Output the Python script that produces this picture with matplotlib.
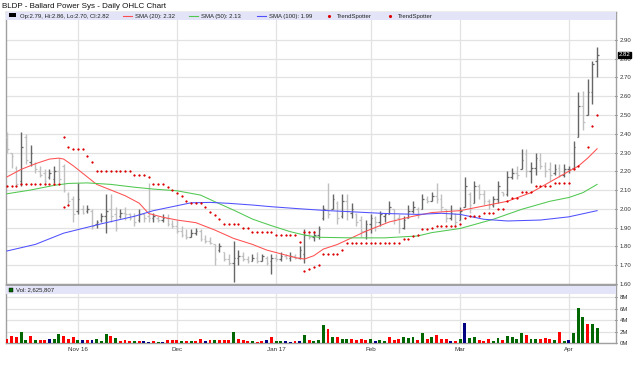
import numpy as np
import matplotlib
matplotlib.use("Agg")
import matplotlib.pyplot as plt
from matplotlib.patches import Rectangle

plt.rcParams['font.family'] = ['Liberation Sans', 'DejaVu Sans']

# ---- data (BLDP daily, Oct 11 2016 .. Apr 11 2017) ----
high = [2.41, 2.30, 2.23, 2.41, 2.40, 2.34, 2.25, 2.23, 2.21, 2.21,
        2.23, 2.27, 2.24, 2.09, 2.07, 2.14, 2.02, 2.02, 2.00, 1.94,
        1.98, 2.08, 2.08, 2.01, 2.00, 2.01, 1.98, 1.98, 2.00, 1.98,
        2.14, 1.98, 1.96, 1.97, 1.97, 1.94, 1.94, 1.91, 1.89, 1.89,
        1.90, 1.89, 1.86, 1.85, 1.81, 1.82, 1.77, 1.76, 1.83, 1.78,
        1.77, 1.75, 1.76, 1.77, 1.76, 1.75, 1.76, 1.76, 1.77, 1.76,
        1.77, 1.76, 1.80, 1.89, 1.88, 1.88, 1.91, 2.02, 2.14, 2.08,
        2.04, 2.08, 2.08, 2.03, 1.98, 1.96, 1.94, 1.97, 1.96, 1.99,
        1.98, 2.04, 2.00, 1.97, 1.96, 2.02, 2.04, 2.01, 2.08, 2.07,
        2.09, 2.14, 2.08, 2.00, 2.02, 1.98, 2.01, 2.17, 2.09, 2.15,
        2.13, 2.10, 2.05, 2.07, 2.15, 2.09, 2.20, 2.22, 2.23, 2.32,
        2.32, 2.25, 2.30, 2.30, 2.25, 2.25, 2.24, 2.24, 2.24, 2.23,
        2.36, 2.62, 2.63, 2.69, 2.79, 2.86]
low = [2.30, 2.22, 2.12, 2.12, 2.24, 2.23, 2.19, 2.17, 2.13, 2.16,
       2.14, 2.14, 2.09, 2.02, 1.93, 1.97, 1.97, 1.98, 1.89, 1.90,
       1.93, 1.87, 1.93, 1.88, 1.95, 1.94, 1.94, 1.91, 1.93, 1.93,
       1.93, 1.93, 1.93, 1.93, 1.91, 1.90, 1.87, 1.85, 1.84, 1.85,
       1.86, 1.83, 1.82, 1.81, 1.70, 1.77, 1.72, 1.70, 1.61, 1.70,
       1.72, 1.71, 1.72, 1.71, 1.72, 1.70, 1.65, 1.72, 1.72, 1.73,
       1.72, 1.73, 1.73, 1.71, 1.84, 1.83, 1.84, 1.94, 1.95, 2.00,
       1.92, 1.95, 1.94, 1.95, 1.91, 1.85, 1.84, 1.87, 1.88, 1.91,
       1.93, 1.97, 1.92, 1.87, 1.89, 1.95, 1.98, 1.95, 2.00, 2.03,
       2.04, 2.03, 1.99, 1.93, 1.94, 1.91, 1.94, 2.01, 1.98, 2.03,
       2.05, 2.02, 2.00, 2.01, 2.03, 2.07, 2.07, 2.16, 2.16, 2.21,
       2.17, 2.14, 2.18, 2.21, 2.17, 2.15, 2.18, 2.17, 2.17, 2.19,
       2.21, 2.38, 2.42, 2.50, 2.56, 2.70]
open_ = [2.38, 2.30, 2.22, 2.15, 2.38, 2.25, 2.24, 2.20, 2.19, 2.17,
         2.16, 2.20, 2.23, 2.08, 2.05, 1.99, 2.00, 1.99, 1.99, 1.92,
         1.94, 1.96, 2.00, 1.97, 1.96, 1.98, 1.97, 1.96, 1.94, 1.97,
         1.96, 1.95, 1.95, 1.94, 1.95, 1.92, 1.91, 1.88, 1.86, 1.85,
         1.87, 1.88, 1.84, 1.83, 1.81, 1.78, 1.77, 1.73, 1.71, 1.74,
         1.75, 1.73, 1.72, 1.74, 1.72, 1.74, 1.72, 1.74, 1.73, 1.75,
         1.74, 1.75, 1.74, 1.76, 1.86, 1.85, 1.86, 1.95, 2.00, 2.00,
         2.03, 1.96, 2.04, 1.98, 1.97, 1.94, 1.88, 1.92, 1.95, 1.93,
         1.96, 1.97, 2.00, 1.95, 1.90, 1.95, 1.99, 2.00, 2.00, 2.05,
         2.04, 2.07, 2.05, 2.00, 1.95, 1.97, 1.94, 2.01, 2.08, 2.03,
         2.12, 2.08, 2.04, 2.02, 2.05, 2.09, 2.08, 2.17, 2.19, 2.21,
         2.29, 2.20, 2.22, 2.26, 2.23, 2.21, 2.19, 2.22, 2.18, 2.21,
         2.22, 2.38, 2.55, 2.50, 2.62, 2.79]
close = [2.32, 2.28, 2.13, 2.33, 2.26, 2.30, 2.21, 2.18, 2.15, 2.19,
         2.20, 2.16, 2.10, 2.04, 1.97, 2.05, 1.98, 2.00, 1.91, 1.93,
         1.96, 1.99, 1.96, 1.90, 1.98, 1.97, 1.95, 1.93, 1.97, 1.95,
         1.95, 1.96, 1.94, 1.95, 1.92, 1.91, 1.88, 1.86, 1.85, 1.87,
         1.88, 1.84, 1.83, 1.82, 1.73, 1.80, 1.73, 1.71, 1.74, 1.75,
         1.73, 1.72, 1.74, 1.72, 1.75, 1.71, 1.74, 1.73, 1.75, 1.74,
         1.75, 1.74, 1.78, 1.86, 1.85, 1.86, 1.89, 2.00, 1.97, 2.05,
         1.95, 2.04, 1.99, 2.00, 1.93, 1.88, 1.92, 1.95, 1.93, 1.97,
         1.97, 2.01, 1.94, 1.90, 1.94, 1.99, 2.01, 1.97, 2.05, 2.04,
         2.07, 2.05, 2.01, 1.95, 1.98, 1.93, 1.99, 2.12, 2.02, 2.12,
         2.08, 2.04, 2.02, 2.05, 2.12, 2.08, 2.17, 2.19, 2.18, 2.26,
         2.20, 2.22, 2.27, 2.23, 2.20, 2.18, 2.21, 2.18, 2.21, 2.21,
         2.33, 2.55, 2.46, 2.62, 2.77, 2.82]

# volume in millions, colour code g=up r=down b=unchanged
volume = [0.78, 1.25, 1.07, 1.85, 0.48, 1.25, 0.48, 0.60, 0.48, 0.66,
          0.78, 1.55, 1.25, 0.78, 1.07, 0.48, 0.60, 0.48, 0.48, 0.66,
          0.42, 1.55, 1.19, 0.96, 0.42, 0.48, 0.30, 0.42, 0.42, 0.30,
          0.24, 0.36, 0.18, 0.24, 0.60, 0.60, 0.48, 0.36, 0.36, 0.36,
          0.42, 0.66, 0.36, 0.48, 0.60, 0.60, 0.60, 0.48, 1.97, 0.78,
          0.48, 0.36, 0.36, 0.18, 0.36, 0.48, 1.07, 0.36, 0.36, 0.36,
          0.18, 0.42, 0.36, 1.37, 0.48, 0.30, 0.60, 3.16, 2.50, 1.07,
          1.13, 0.72, 0.78, 0.66, 0.54, 0.66, 0.54, 0.78, 0.42, 0.54,
          0.42, 1.01, 0.54, 0.78, 1.07, 0.84, 1.01, 0.54, 1.73, 0.66,
          1.01, 1.37, 0.72, 0.72, 0.30, 0.42, 0.78, 3.46, 0.84, 1.07,
          0.60, 0.42, 0.66, 0.42, 0.96, 0.48, 1.19, 1.13, 0.78, 1.73,
          1.43, 0.78, 0.78, 0.66, 0.84, 0.66, 0.48, 1.85, 0.42, 0.60,
          1.79, 6.20, 4.60, 3.28, 3.28, 2.63]
vol_dir = ("rrrggrgrrb" "ggrrrgbrbg" "ggrgrrrgrb" "brgbrrrgrg" "rrbrgrrrgr"
           "rrgrrbrggb" "brbgrgggrg" "rggrrrrgbg" "grrrgggrgr"
           "grrrbrgbgg" "rrrggrgggg" "rggrrrgrgb" "gggrgg")
last_vol = 2625807

# moving averages (read at selected bars)
sma20_i = [0, 3, 6, 9, 11, 12, 14, 16, 19, 22, 25, 28, 30, 33, 36, 40, 44, 48,
           52, 55, 58, 61, 63, 65, 67, 70, 73, 76, 81, 86, 90, 96, 101, 106,
           111, 116, 119, 121, 123, 125]
sma20_v = [2.17, 2.21, 2.24, 2.265, 2.27, 2.265, 2.23, 2.19, 2.13, 2.10, 2.07,
           2.03, 1.975, 1.955, 1.94, 1.926, 1.887, 1.842, 1.81, 1.78, 1.76,
           1.74, 1.732, 1.75, 1.785, 1.81, 1.845, 1.88, 1.93, 1.96, 1.98,
           1.99, 2.015, 2.04, 2.086, 2.157, 2.20, 2.227, 2.27, 2.32]
sma50_i = [0, 5, 10, 13, 17, 22, 27, 31, 36, 41, 44, 48, 52, 56, 60, 63, 66,
           73, 80, 87, 90, 96, 103, 109, 115, 119, 122, 125]
sma50_v = [2.08, 2.10, 2.125, 2.135, 2.138, 2.13, 2.115, 2.105, 2.096, 2.073,
           2.038, 1.993, 1.945, 1.91, 1.878, 1.86, 1.848, 1.845, 1.845, 1.855,
           1.873, 1.895, 1.944, 1.997, 2.04, 2.06, 2.086, 2.13]
sma100_i = [0, 6, 12, 20, 27, 31, 35, 39, 43, 47, 52, 56, 62, 68, 73, 80, 87,
            92, 96, 101, 106, 113, 119, 125]
sma100_v = [1.775, 1.81, 1.87, 1.92, 1.96, 1.99, 2.011, 2.032, 2.034, 2.029,
            2.02, 2.011, 2.00, 1.99, 1.984, 1.975, 1.97, 1.976, 1.97, 1.944,
            1.935, 1.94, 1.957, 1.99]

# TrendSpotter dots
ts_bull_i = list(range(0, 14)) + list(range(63, 122)) + [123, 124, 125]
ts_bull_v = [2.12, 2.12, 2.12, 2.13, 2.13, 2.13, 2.13, 2.13, 2.13, 2.13, 2.13, 2.13, 2.01, 2.02,
             1.67, 1.68, 1.69, 1.70, 1.76, 1.76, 1.76, 1.76, 1.78, 1.82,
             1.82, 1.82, 1.82, 1.82, 1.82, 1.82, 1.82, 1.82, 1.82, 1.82,
             1.82, 1.84, 1.84, 1.855, 1.86, 1.89, 1.89, 1.90, 1.91, 1.91,
             1.91, 1.91, 1.91, 1.92, 1.95, 1.96, 1.96, 1.96, 1.975, 1.975,
             1.975, 2.00, 2.00, 2.04, 2.06, 2.06, 2.09, 2.09, 2.09, 2.12,
             2.12, 2.12, 2.12, 2.14, 2.14, 2.14, 2.14, 2.21, 2.23,
             2.33, 2.44, 2.50]
ts_bear_i = list(range(12, 66))
ts_bear_v = [2.38, 2.33, 2.32, 2.32, 2.32, 2.28, 2.25, 2.20, 2.20, 2.20,
             2.20, 2.20, 2.20, 2.20, 2.20, 2.18, 2.18, 2.18, 2.17, 2.13,
             2.13, 2.13, 2.118, 2.10, 2.085, 2.068, 2.043, 2.029, 2.029, 2.029,
             2.008, 1.985, 1.967, 1.944, 1.919, 1.919, 1.919, 1.919, 1.90, 1.895,
             1.878, 1.878, 1.878, 1.878, 1.878, 1.86, 1.86, 1.86, 1.86, 1.86,
             1.824, 1.878, 1.878, 1.878]

month_i = [15, 36, 57, 77, 96, 119]
month_lbl = ['Nov 16', 'Dec', 'Jan 17', 'Feb', 'Mar', 'Apr']
price_ticks = [1.60, 1.70, 1.80, 1.90, 2.00, 2.10, 2.20, 2.30, 2.40, 2.50,
               2.60, 2.70, 2.80, 2.90]
vol_ticks = [0, 2, 4, 6, 8]

# ---- figure ----
W, H = 640, 366
fig = plt.figure(figsize=(W / 100, H / 100), dpi=100)
ax = fig.add_axes([6 / W, 1 - 284 / H, 610 / W, 272 / H])
axv = fig.add_axes([6 / W, 1 - 343 / H, 610 / W, 58 / H])

x = np.arange(len(close))
grid_c = '#e2e2e2'
edge_c = '#a0a0a0'
xlim = (-0.21, 129.0)

for a in (ax, axv):
    a.set_xlim(*xlim)
    a.set_xticks(month_i)
    a.grid(True, color=grid_c, lw=0.9)
    a.set_axisbelow(True)
    a.yaxis.tick_right()
    for s in a.spines.values():
        s.set_color(edge_c)
        s.set_linewidth(1)
    a.tick_params(axis='both', labelsize=4.3, colors='#333333', length=2,
                  width=0.6, direction='inout', pad=1.5)
    a.tick_params(axis='x', length=0)

ax.set_xticklabels([])
axv.set_xticklabels(month_lbl, fontsize=4.5, color='#333333')
axv.tick_params(axis='x', pad=3)

# price panel
ax.set_ylim(1.599, 3.049)
ax.set_yticks(price_ticks)
ax.set_yticklabels(['%.2f' % t for t in price_ticks])

o = np.array(open_)
c = np.array(close)
bar_col = np.where(c >= o, '#666666', '#c0c0c0')
ax.vlines(x, low, high, colors=bar_col, lw=1.0, zorder=3)
ax.hlines(o, x - 0.35, x, colors=bar_col, lw=0.9, zorder=3)
ax.hlines(c, x, x + 0.35, colors=bar_col, lw=0.9, zorder=3)

ax.plot(sma20_i, sma20_v, color='#ff5050', lw=0.75, zorder=4)
ax.plot(sma50_i, sma50_v, color='#50c850', lw=0.75, zorder=4)
ax.plot(sma100_i, sma100_v, color='#5050ff', lw=0.75, zorder=4)
ax.plot(ts_bull_i, ts_bull_v, ls='none', marker='o', ms=1.25, mew=0.3,
        color='#dd0000', zorder=5)
ax.plot(ts_bear_i, ts_bear_v, ls='none', marker='o', ms=1.25, mew=0.3,
        color='#dd0000', zorder=5)

# last price marker
ax.text(1.004, (close[-1] - 1.599) / (3.049 - 1.599), '%.2f' % close[-1],
        transform=ax.transAxes, fontsize=4.3, color='white', va='center', ha='left',
        bbox=dict(boxstyle='square,pad=0.1', fc='black', ec='black'), zorder=10)

# legend band (price)
band_c = '#e4e4f8'
ax.add_patch(Rectangle((0, 0.969), 1, 0.031, transform=ax.transAxes,
                       fc=band_c, ec='none', zorder=6))
ty = 0.985
ax.add_patch(Rectangle((3 / 610, 0.9805), 7 / 610, 4 / 272, transform=ax.transAxes,
                       fc='black', ec='none', zorder=7))
ax.text(14 / 610, ty, 'Op:%.2f, Hi:%.2f, Lo:%.2f, Cl:%.2f' % (open_[-1], high[-1], low[-1], close[-1]),
        transform=ax.transAxes, fontsize=4.3, va='center', color='#222222', zorder=7)
leg = [(0.1918, '#ff5050', 'SMA (20): %.2f' % sma20_v[-1]),
       (0.300, '#50c850', 'SMA (50): %.2f' % sma50_v[-1]),
       (0.4115, '#5050ff', 'SMA (100): %.2f' % sma100_v[-1])]
for lx, col, lab in leg:
    ax.plot([lx, lx + 0.014], [ty, ty], color=col, lw=0.8, transform=ax.transAxes, zorder=7)
    ax.text(lx + 0.0195, ty, lab, transform=ax.transAxes, fontsize=4.3, va='center',
            color='#222222', zorder=7)
for lx in (0.530, 0.6295):
    ax.plot([lx], [ty], marker='o', ms=1.25, color='#dd0000', transform=ax.transAxes, zorder=7)
    ax.text(lx + 0.0125, ty, 'TrendSpotter', transform=ax.transAxes, fontsize=4.3,
            va='center', color='#222222', zorder=7)

fig.text(2 / W, 1 - 6 / H, 'BLDP - Ballard Power Sys - Daily OHLC Chart', fontsize=5.8,
         va='center', ha='left', color='#111111')

# volume panel
vcolors = {'g': '#006600', 'r': '#ff0000', 'b': '#000080'}
axv.bar(x, volume, width=0.62, color=[vcolors[k] for k in vol_dir], zorder=3)
axv.set_ylim(0, 10.17)
axv.set_yticks(vol_ticks)
axv.set_yticklabels(['%dM' % t for t in vol_ticks])
axv.add_patch(Rectangle((0, 0.845), 1, 0.138, transform=axv.transAxes,
                        fc=band_c, ec='none', zorder=6))
axv.add_patch(Rectangle((3 / 610, 0.875), 4 / 610, 4 / 58, transform=axv.transAxes,
                        fc='#006600', ec='black', lw=0.3, zorder=7))
axv.text(10 / 610, 0.91, 'Vol: {:,}'.format(last_vol), transform=axv.transAxes,
         fontsize=4.3, va='center', color='#222222', zorder=7)

fig.savefig('out.png', dpi=100)
